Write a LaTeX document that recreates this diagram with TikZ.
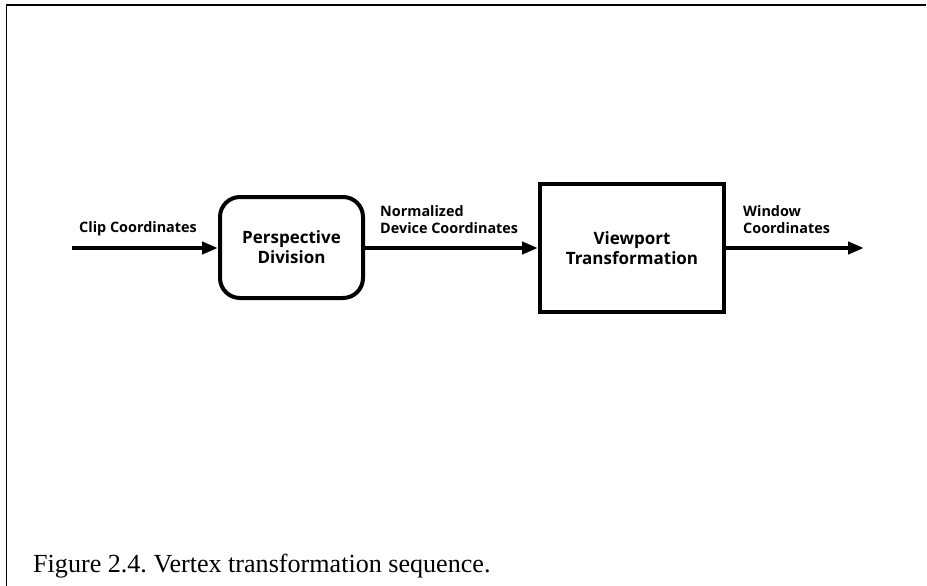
\documentclass[tikz,border=0pt]{standalone}
\usepackage{fontspec}
\setmainfont{Liberation Serif}
\newfontfamily\labelfont{Open Sans}
\usetikzlibrary{arrows.meta}
\begin{document}
\frenchspacing
\begin{tikzpicture}[x=1pt,y=-1pt,
  stage/.style={draw=black, line width=4pt, align=center, font=\labelfont\bfseries\fontsize{17}{20}\selectfont},
  flow/.style={line width=4.2pt, -{Triangle[length=16pt,width=12pt]}},
  tag/.style={align=left, font=\labelfont\bfseries\fontsize{14.4}{16.5}\selectfont, inner sep=0pt}]
  \useasboundingbox (0,0) rectangle (927,586);
  % frame: top rule and left rule
  \coordinate (ftl) at (6.5,5);
  \coordinate (ftr) at (926,5);
  \coordinate (fbl) at (6.5,586);
  \draw[line width=1.3pt] (ftr) -- (ftl) -- (fbl);

  % processing stages
  \node[stage, rounded corners=20pt, minimum width=143pt, minimum height=101pt] (pd) at (291.5,247.5) {Perspective\\Division};
  \node[stage, minimum width=184pt, minimum height=128pt] (vt) at (632,248) {Viewport\\Transformation};

  % connectors
  \coordinate (in) at (72,248);
  \coordinate (out) at (864,248);
  \draw[flow] (in) -- (pd.west |- in);
  \draw[flow] (pd.east |- in) -- (vt.west |- in);
  \draw[flow] (vt.east |- in) -- (out);

  % connector labels
  \node[tag, anchor=base west] (l1) at (79,232) {Clip Coordinates};
  \node[tag, anchor=base west] (l2) at (380,233) {Normalized\\Device Coordinates};
  \node[tag, anchor=base west] (l3) at (743,233) {Window\\Coordinates};

  % caption
  \node[anchor=base west, inner sep=0pt, font=\fontsize{26.1}{30}\selectfont] (cap) at (33,572) {Figure 2.4. Vertex transformation sequence.};
\end{tikzpicture}
\end{document}
